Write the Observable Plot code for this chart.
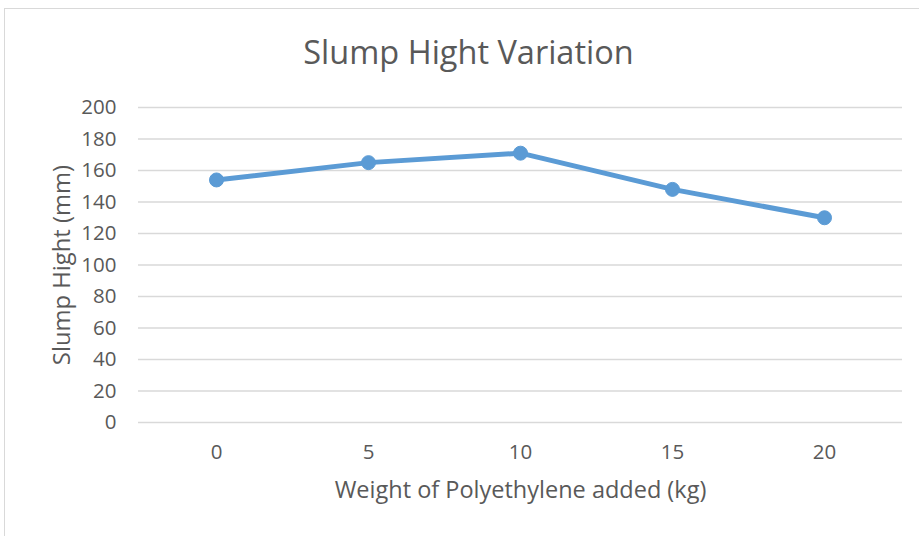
<!DOCTYPE html>
<html>
<head>
<meta charset="utf-8">
<script src="https://cdn.jsdelivr.net/npm/d3@7"></script>
<script src="https://cdn.jsdelivr.net/npm/@observablehq/plot@0.6"></script>
<style>
  html, body { margin: 0; padding: 0; background: #fff; }
  #wrap { position: relative; width: 919px; height: 536px; overflow: hidden; }
  #frame { position: absolute; left: 4px; top: 8px; width: 1000px; height: 600px;
           border: 1px solid #d9d9d9; box-sizing: border-box; }
  #chart { position: absolute; left: 0; top: 0; }
</style>
</head>
<body>
<div id="wrap"><div id="frame"></div><div id="chart"></div></div>
<script>
// Slump height measured for each polyethylene addition
const weights = ["0", "5", "10", "15", "20"];
const slump = [154, 165, 171, 148, 130];
const yTicks = [0, 20, 40, 60, 80, 100, 120, 140, 160, 180, 200];

const title = "Slump Hight Variation";
const xLabel = "Weight of Polyethylene added (kg)";
const yLabel = "Slump Hight (mm)";

const data = weights.map((w, i) => ({ w, v: slump[i] }));

const font = "'Open Sans', sans-serif";
const grey = "#595959";
const blue = "#5B9BD5";

const chart = Plot.plot({
  width: 919,
  height: 536,
  marginLeft: 138,
  marginRight: 17,
  marginTop: 107,
  marginBottom: 114,
  style: { fontFamily: font, background: "transparent", color: grey },
  x: { type: "point", domain: weights, padding: 0.5, label: null },
  y: { domain: [0, 200], label: null },
  marks: [
    Plot.gridY(yTicks, { stroke: "#d9d9d9", strokeOpacity: 1, strokeWidth: 1.3 }),
    Plot.axisY(yTicks, { tickSize: 0, tickPadding: 22, fontSize: 20.5, fill: grey, label: null }),
    Plot.axisX({ tickSize: 0, tickPadding: 22, fontSize: 20.5, fill: grey, label: null }),
    Plot.line(data, { x: "w", y: "v", stroke: blue, strokeWidth: 5, strokeLinejoin: "round" }),
    Plot.dot(data, { x: "w", y: "v", r: 7, fill: blue, stroke: blue, strokeWidth: 1 }),
    Plot.text([title], { frameAnchor: "top", dx: -52, dy: -67, fontSize: 32.5, fill: grey, text: d => d }),
    Plot.text([xLabel], { frameAnchor: "bottom", dy: 75, fontSize: 23.5, fill: grey, text: d => d }),
    Plot.text([yLabel], { frameAnchor: "left", textAnchor: "middle", dx: -76, rotate: -90, fontSize: 23.8, fill: grey, text: d => d })
  ]
});
document.getElementById("chart").append(chart);
</script>
</body>
</html>
